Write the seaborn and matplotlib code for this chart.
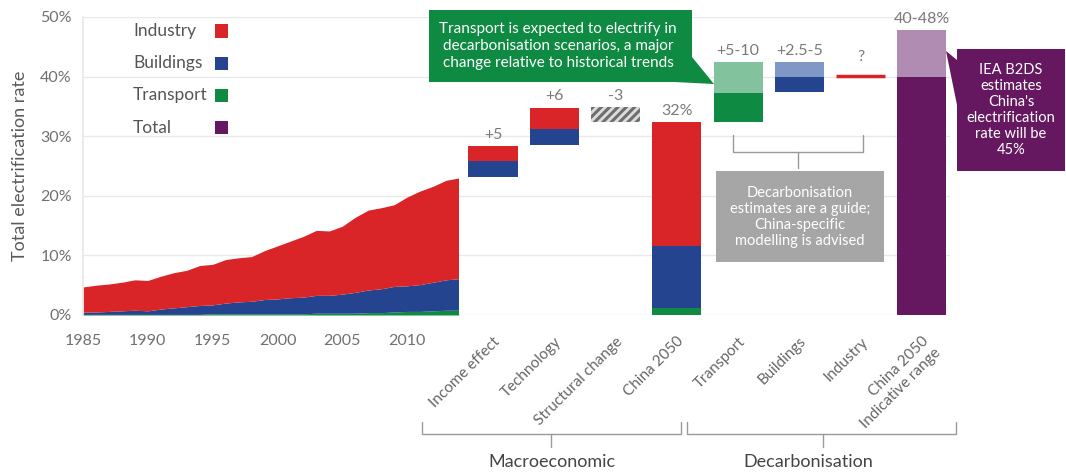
import matplotlib
matplotlib.use("Agg")
import matplotlib.pyplot as plt
import matplotlib.patches as mpatches
from matplotlib.lines import Line2D
import seaborn as sns

# historical electrification rate by sector (% of final energy)
years = list(range(1985, 2015))
transport = [0.1, 0.1, 0.1, 0.1, 0.1, 0.1, 0.1, 0.1, 0.1, 0.1, 0.2, 0.2, 0.2, 0.2, 0.2,
             0.2, 0.2, 0.2, 0.3, 0.3, 0.3, 0.3, 0.4, 0.4, 0.5, 0.6, 0.6, 0.7, 0.8, 0.8]
buildings = [0.4, 0.4, 0.5, 0.6, 0.7, 0.6, 0.9, 1.1, 1.3, 1.5, 1.5, 1.8, 2.0, 2.1, 2.4,
             2.5, 2.7, 2.8, 3.0, 3.0, 3.2, 3.5, 3.8, 4.0, 4.3, 4.3, 4.5, 4.8, 5.1, 5.3]
industry = [4.2, 4.5, 4.6, 4.8, 5.1, 5.1, 5.5, 5.9, 6.1, 6.7, 6.8, 7.3, 7.4, 7.5, 8.2,
            8.9, 9.5, 10.2, 10.9, 10.8, 11.4, 12.6, 13.4, 13.6, 13.7, 14.9, 15.7, 16.1, 16.7, 16.9]

# waterfall to 2050
steps = ["Income effect", "Technology", "Structural change", "China 2050",
         "Transport", "Buildings", "Industry", "China 2050\nIndicative range"]
step_labels = ["+5", "+6", "-3", "32%", "+5-10", "+2.5-5", "?", "40-48%"]

seg_step = ["Income effect", "Income effect", "Technology", "Technology",
            "Structural change", "China 2050", "China 2050", "China 2050",
            "Transport", "Transport", "Buildings", "Buildings",
            "China 2050\nIndicative range", "China 2050\nIndicative range"]
seg_bottom = [23.1, 25.8, 28.5, 31.2, 32.4, 0.0, 1.2, 11.6, 32.3, 37.3, 37.4, 39.9, 0.0, 40.0]
seg_height = [2.7, 2.6, 2.7, 3.6, 2.5, 1.2, 10.4, 20.7, 5.0, 5.1, 2.5, 2.5, 40.0, 7.8]
seg_kind = ["Buildings", "Industry", "Buildings", "Industry", "structural",
            "Transport", "Buildings", "Industry", "Transport", "Transport range",
            "Buildings", "Buildings range", "Total", "Total range"]
industry_step = 40.1

legend_keys = ["Industry", "Buildings", "Transport", "Total"]

colors = {
    "Industry": "#d92428",
    "Buildings": "#25448f",
    "Transport": "#0f8a42",
    "Total": "#65175f",
    "Transport range": "#82c29d",
    "Buildings range": "#7f98c6",
    "Total range": "#b08cb3",
    "structural": "#dcdcdc",
}

sns.set_theme(style="white")
plt.rcParams["font.family"] = ["Lato", "DejaVu Sans"]
plt.rcParams["hatch.linewidth"] = 2.2
plt.rcParams["hatch.color"] = "#6e6e6e"

W, H = 1066, 475
grey_txt = "#707070"
grid_c = "#e9e9e9"


def fx(x):
    return x / W


def fy(y):
    return 1 - y / H


fig = plt.figure(figsize=(W / 100, H / 100), dpi=100)
ax1 = fig.add_axes([fx(83), fy(315), (459 - 83) / W, (315 - 17) / H])
ax2 = fig.add_axes([fx(459), fy(315), (950 - 459) / W, (315 - 17) / H], sharey=ax1)

# --- historical stacked area
ax1.stackplot(years, transport, buildings, industry,
              colors=[colors["Transport"], colors["Buildings"], colors["Industry"]],
              linewidth=0)
ax1.set_xlim(1985, 2014)
ax1.set_ylim(0, 50)
ax1.set_xticks([1985, 1990, 1995, 2000, 2005, 2010])
ax1.set_yticks([0, 10, 20, 30, 40, 50])
ax1.set_yticklabels([f"{v}%" for v in [0, 10, 20, 30, 40, 50]])
ax1.tick_params(axis="both", length=0, labelsize=11.5, colors=grey_txt)
ax1.tick_params(axis="x", pad=14)
ax1.tick_params(axis="y", pad=8)
ax1.set_ylabel("Total electrification rate", fontsize=13, color="#5a5a5a", labelpad=9)
ax1.yaxis.grid(True, color=grid_c, lw=1)
ax1.set_axisbelow(True)
for s in ["top", "right", "bottom"]:
    ax1.spines[s].set_visible(False)
ax1.spines["left"].set_color(grid_c)

# legend: names left-aligned, swatches on the right
for i, k in enumerate(legend_keys):
    yc = 0.953 - i * 0.108
    ax1.text(0.133, yc, k, transform=ax1.transAxes, ha="left", va="center",
             fontsize=12.5, color="#555555")
    ax1.add_patch(mpatches.Rectangle((0.351, yc - 0.022), 0.035, 0.044,
                                     transform=ax1.transAxes, color=colors[k], lw=0))

# --- waterfall
for st, b, h, k in zip(seg_step, seg_bottom, seg_height, seg_kind):
    x = steps.index(st)
    if k == "structural":
        ax2.bar(x, h, bottom=b, width=0.8, color=colors[k], hatch="////",
                edgecolor="#6e6e6e", linewidth=0)
    else:
        ax2.bar(x, h, bottom=b, width=0.8, color=colors[k], linewidth=0)

xi = steps.index("Industry")
ax2.hlines(industry_step, xi - 0.4, xi + 0.4, color=colors["Industry"], lw=2.5)

for i, (st, lab) in enumerate(zip(steps, step_labels)):
    tops = [b + h for s2, b, h in zip(seg_step, seg_bottom, seg_height) if s2 == st]
    top = max(tops) if tops else industry_step
    off = 9 if lab == "?" else 3
    ax2.annotate(lab, (i, top), xytext=(0, off), textcoords="offset points",
                 ha="center", va="bottom", fontsize=11.5, color="#7a7a7a")

ax2.set_xlim(-0.555, 7.46)
ax2.yaxis.grid(True, color=grid_c, lw=1)
ax2.set_axisbelow(True)
for s in ["top", "right", "bottom", "left"]:
    ax2.spines[s].set_visible(False)
ax2.tick_params(axis="y", left=False, labelleft=False)
ax2.set_xticks(range(len(steps)))
ax2.set_xticklabels(steps, rotation=45, ha="right", va="top",
                    rotation_mode="anchor", fontsize=11, color="#666666")
ax2.tick_params(axis="x", length=0, pad=14)

# --- call-out boxes
green = mpatches.Polygon([(fx(429), fy(10)), (fx(692), fy(10)), (fx(692), fy(57)),
                          (fx(714), fy(84)), (fx(674), fy(82)), (fx(429), fy(82))],
                         closed=True, transform=fig.transFigure, color="#0f8a42", lw=0)
fig.add_artist(green)
fig.text(fx(558), fy(46), "Transport is expected to electrify in\n"
         "decarbonisation scenarios, a major\nchange relative to historical trends",
         ha="center", va="center", color="white", fontsize=11, linespacing=1.25)

purple = mpatches.Polygon([(fx(957), fy(49)), (fx(1065), fy(49)), (fx(1065), fy(171)),
                           (fx(957), fy(171)), (fx(957), fy(105)), (fx(946), fy(51)),
                           (fx(957), fy(60))],
                          closed=True, transform=fig.transFigure, color="#65175f", lw=0)
fig.add_artist(purple)
fig.text(fx(1011), fy(110), "IEA B2DS\nestimates\nChina's\nelectrification\nrate will be\n45%",
         ha="center", va="center", color="white", fontsize=10.5, linespacing=1.2)

grey = mpatches.Rectangle((fx(716), fy(262)), (884 - 716) / W, (262 - 171) / H,
                          transform=fig.transFigure, color="#a6a6a6", lw=0)
fig.add_artist(grey)
fig.text(fx(800), fy(217), "Decarbonisation\nestimates are a guide;\nChina-specific\nmodelling is advised",
         ha="center", va="center", color="white", fontsize=10.5, linespacing=1.2)

# --- brackets
br_c = "#9a9a9a"


def bracket(x0, x1, ytop, ybar, ystem, xm=None):
    if xm is None:
        xm = (x0 + x1) / 2
    fig.add_artist(Line2D([fx(x0), fx(x0), fx(x1), fx(x1)],
                          [fy(ytop), fy(ybar), fy(ybar), fy(ytop)],
                          transform=fig.transFigure, color=br_c, lw=1))
    fig.add_artist(Line2D([fx(xm), fx(xm)], [fy(ybar), fy(ystem)],
                          transform=fig.transFigure, color=br_c, lw=1))


bracket(733, 863, 135, 152, 168, xm=798)
bracket(422, 681, 422, 434, 447, xm=551)
bracket(687, 956, 422, 434, 447, xm=823)
fig.text(fx(552), fy(462), "Macroeconomic", ha="center", va="center",
         fontsize=13, color="#444444")
fig.text(fx(808), fy(462), "Decarbonisation", ha="center", va="center",
         fontsize=13, color="#444444")

fig.savefig("out.png", dpi=100)
